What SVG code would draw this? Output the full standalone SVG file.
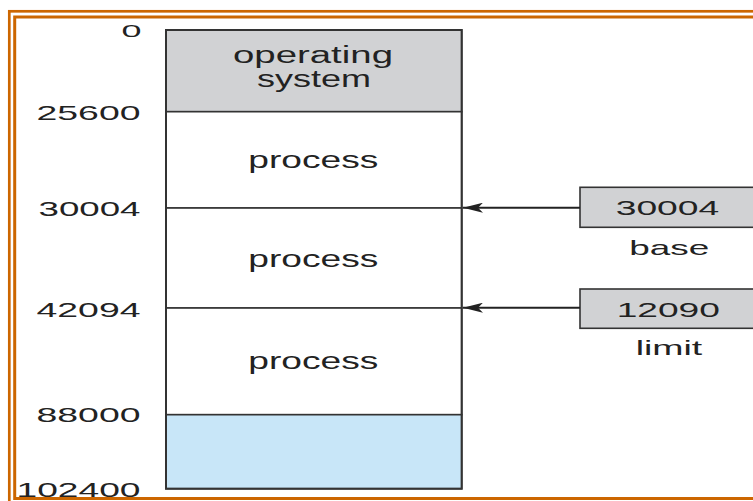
<svg xmlns="http://www.w3.org/2000/svg" width="753" height="501" viewBox="0 0 753 501">
<defs>
<style>
.frame{fill:none;stroke:#CC6600}
.col{stroke:#333;stroke-width:1.6}
.t{font-family:"Liberation Sans",Arial,Helvetica,sans-serif;fill:#222}
.num{font-size:21px;text-anchor:end}
.mid{font-size:23px;text-anchor:middle}
.reg{font-size:21px;text-anchor:middle}
.conn{stroke:#222;stroke-width:2;fill:none}
</style>
<marker id="ah" viewBox="0 0 20 10" refX="20" refY="5" markerWidth="20" markerHeight="10" markerUnits="userSpaceOnUse" orient="auto">
<path d="M0,0 L20,5 L0,10 L5,5 Z" fill="#222"/>
</marker>
</defs>
<rect x="0" y="0" width="753" height="501" fill="#fff"/>
<g id="frame">
<rect class="frame" x="9.3" y="11.3" width="760" height="500" stroke-width="2.7"/>
<rect class="frame" x="14.7" y="17" width="750" height="481.5" stroke-width="3"/>
</g>
<g id="memory">
<g id="os">
<rect class="col" x="166" y="30" width="295.7" height="81.7" fill="#D1D2D4"/>
<text class="t mid" x="313" y="63" textLength="160" lengthAdjust="spacingAndGlyphs">operating</text>
<text class="t mid" x="314" y="87" textLength="114" lengthAdjust="spacingAndGlyphs">system</text>
</g>
<g id="process1">
<rect class="col" x="166" y="111.7" width="295.7" height="96.3" fill="#fff"/>
<text class="t mid" x="313.3" y="167.5" textLength="130" lengthAdjust="spacingAndGlyphs">process</text>
</g>
<g id="process2">
<rect class="col" x="166" y="208" width="295.7" height="100" fill="#fff"/>
<text class="t mid" x="313.3" y="266.7" textLength="130" lengthAdjust="spacingAndGlyphs">process</text>
</g>
<g id="process3">
<rect class="col" x="166" y="308" width="295.7" height="106.7" fill="#fff"/>
<text class="t mid" x="313.3" y="369" textLength="130" lengthAdjust="spacingAndGlyphs">process</text>
</g>
<g id="free">
<rect class="col" x="166" y="414.7" width="295.7" height="74" fill="#C8E6F8"/>
</g>
<rect x="166" y="30" width="295.7" height="458.7" fill="none" stroke="#333" stroke-width="2"/>
</g>
<g id="addresses">
<text class="t num" x="141.5" y="36.7" style="font-size:16.4px" textLength="20" lengthAdjust="spacingAndGlyphs">0</text>
<text class="t num" x="140.5" y="120" textLength="104" lengthAdjust="spacingAndGlyphs">25600</text>
<text class="t num" x="140.5" y="216" textLength="102" lengthAdjust="spacingAndGlyphs">30004</text>
<text class="t num" x="140.5" y="316.7" textLength="104" lengthAdjust="spacingAndGlyphs">42094</text>
<text class="t num" x="140.5" y="422.3" textLength="104" lengthAdjust="spacingAndGlyphs">88000</text>
<text class="t num" x="140.5" y="497" textLength="124" lengthAdjust="spacingAndGlyphs">102400</text>
</g>
<g id="base-register">
<rect x="580" y="187.3" width="185" height="40" fill="#D1D2D4" stroke="#333" stroke-width="1.6"/>
<text class="t reg" x="667.5" y="215" textLength="103.6" lengthAdjust="spacingAndGlyphs">30004</text>
<text class="t reg" x="669.2" y="255" textLength="80" lengthAdjust="spacingAndGlyphs">base</text>
</g>
<g id="limit-register">
<rect x="580" y="289" width="185" height="39.3" fill="#D1D2D4" stroke="#333" stroke-width="1.6"/>
<text class="t reg" x="668.3" y="316.7" textLength="103.3" lengthAdjust="spacingAndGlyphs">12090</text>
<text class="t reg" x="669" y="355" textLength="66.6" lengthAdjust="spacingAndGlyphs">limit</text>
</g>
<g id="connectors">
<line class="conn" x1="580" y1="207.7" x2="463" y2="207.7" marker-end="url(#ah)"/>
<line class="conn" x1="580" y1="307.7" x2="463" y2="307.7" marker-end="url(#ah)"/>
</g>
</svg>
